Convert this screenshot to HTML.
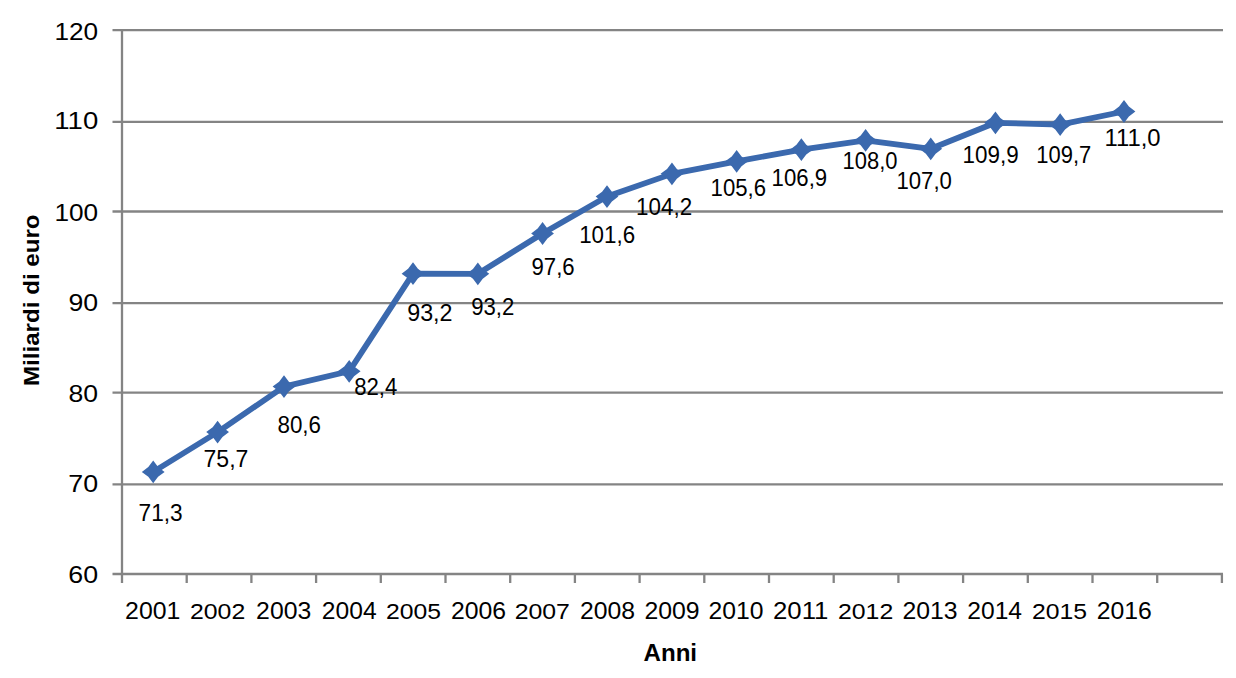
<!DOCTYPE html><html><head><meta charset="utf-8"><title>Miliardi di euro</title><style>html,body{margin:0;padding:0;background:#fff;width:1236px;height:678px;overflow:hidden}svg{display:block}text{font-family:"Liberation Sans",Arial,sans-serif;fill:#000}</style></head><body>
<svg width="1236" height="678" viewBox="0 0 1236 678">
<rect x="0" y="0" width="1236" height="678" fill="#fff"/>
<g stroke="#848484" stroke-width="2.3" fill="none">
<line x1="112.5" y1="574.0" x2="1223" y2="574.0"/>
<line x1="112.5" y1="484.3" x2="1223" y2="484.3"/>
<line x1="112.5" y1="392.7" x2="1223" y2="392.7"/>
<line x1="112.5" y1="303.1" x2="1223" y2="303.1"/>
<line x1="112.5" y1="211.5" x2="1223" y2="211.5"/>
<line x1="112.5" y1="121.9" x2="1223" y2="121.9"/>
<line x1="112.5" y1="30.2" x2="1223" y2="30.2"/>
<line x1="122" y1="29" x2="122" y2="583"/>
<line x1="186.70" y1="574" x2="186.70" y2="583"/>
<line x1="251.40" y1="574" x2="251.40" y2="583"/>
<line x1="316.10" y1="574" x2="316.10" y2="583"/>
<line x1="380.80" y1="574" x2="380.80" y2="583"/>
<line x1="445.50" y1="574" x2="445.50" y2="583"/>
<line x1="510.20" y1="574" x2="510.20" y2="583"/>
<line x1="574.90" y1="574" x2="574.90" y2="583"/>
<line x1="639.60" y1="574" x2="639.60" y2="583"/>
<line x1="704.30" y1="574" x2="704.30" y2="583"/>
<line x1="769.00" y1="574" x2="769.00" y2="583"/>
<line x1="833.70" y1="574" x2="833.70" y2="583"/>
<line x1="898.40" y1="574" x2="898.40" y2="583"/>
<line x1="963.10" y1="574" x2="963.10" y2="583"/>
<line x1="1027.80" y1="574" x2="1027.80" y2="583"/>
<line x1="1092.50" y1="574" x2="1092.50" y2="583"/>
<line x1="1157.20" y1="574" x2="1157.20" y2="583"/>
<line x1="1221.90" y1="574" x2="1221.90" y2="583"/>
</g>
<text transform="translate(54.41 39.50) scale(1.1394 1)" font-size="23.0">120</text>
<text transform="translate(54.31 129.15) scale(1.1965 1)" font-size="23.0">110</text>
<text transform="translate(54.41 221.20) scale(1.1394 1)" font-size="23.0">100</text>
<text transform="translate(68.44 310.50) scale(1.1611 1)" font-size="23.0">90</text>
<text transform="translate(68.56 402.10) scale(1.1566 1)" font-size="23.0">80</text>
<text transform="translate(68.33 491.80) scale(1.1657 1)" font-size="23.0">70</text>
<text transform="translate(68.33 583.20) scale(1.1657 1)" font-size="23.0">60</text>
<text transform="translate(125.06 618.80) scale(1.0803 1)" font-size="23.0">2001</text>
<text transform="translate(189.96 618.80) scale(1.0808 1)" font-size="23.0">2002</text>
<text transform="translate(256.11 618.80) scale(1.0778 1)" font-size="23.0">2003</text>
<text transform="translate(321.87 618.80) scale(1.0702 1)" font-size="23.0">2004</text>
<text transform="translate(386.01 618.80) scale(1.0768 1)" font-size="23.0">2005</text>
<text transform="translate(451.01 618.80) scale(1.0778 1)" font-size="23.0">2006</text>
<text transform="translate(514.66 618.80) scale(1.0808 1)" font-size="23.0">2007</text>
<text transform="translate(580.01 618.80) scale(1.0773 1)" font-size="23.0">2008</text>
<text transform="translate(644.46 618.80) scale(1.0793 1)" font-size="23.0">2009</text>
<text transform="translate(708.61 618.80) scale(1.0752 1)" font-size="23.0">2010</text>
<text transform="translate(773.01 618.80) scale(1.1193 1)" font-size="23.0">2011</text>
<text transform="translate(837.96 618.80) scale(1.0808 1)" font-size="23.0">2012</text>
<text transform="translate(902.51 618.80) scale(1.0778 1)" font-size="23.0">2013</text>
<text transform="translate(967.32 618.80) scale(1.0702 1)" font-size="23.0">2014</text>
<text transform="translate(1032.01 618.80) scale(1.0768 1)" font-size="23.0">2015</text>
<text transform="translate(1096.66 618.80) scale(1.0778 1)" font-size="23.0">2016</text>
<polyline fill="none" stroke="#3b69ae" stroke-width="5.8" stroke-linejoin="round" points="153.20,471.90 217.60,432.10 284.00,386.60 349.20,371.30 413.00,273.70 477.85,273.79 542.55,233.48 607.00,196.60 671.95,173.87 736.65,161.32 801.35,149.68 865.60,140.40 930.75,148.78 995.45,122.80 1060.15,124.59 1124.00,111.50"/>
<path fill="#3b69ae" d="M153.20 460.50L158.10 467.00L164.60 471.90L158.10 476.80L153.20 483.30L148.30 476.80L141.80 471.90L148.30 467.00Z"/>
<path fill="#3b69ae" d="M217.60 420.70L222.50 427.20L229.00 432.10L222.50 437.00L217.60 443.50L212.70 437.00L206.20 432.10L212.70 427.20Z"/>
<path fill="#3b69ae" d="M284.00 375.20L288.90 381.70L295.40 386.60L288.90 391.50L284.00 398.00L279.10 391.50L272.60 386.60L279.10 381.70Z"/>
<path fill="#3b69ae" d="M349.20 359.90L354.10 366.40L360.60 371.30L354.10 376.20L349.20 382.70L344.30 376.20L337.80 371.30L344.30 366.40Z"/>
<path fill="#3b69ae" d="M413.00 262.30L417.90 268.80L424.40 273.70L417.90 278.60L413.00 285.10L408.10 278.60L401.60 273.70L408.10 268.80Z"/>
<path fill="#3b69ae" d="M477.85 262.39L482.75 268.89L489.25 273.79L482.75 278.69L477.85 285.19L472.95 278.69L466.45 273.79L472.95 268.89Z"/>
<path fill="#3b69ae" d="M542.55 222.08L547.45 228.58L553.95 233.48L547.45 238.39L542.55 244.88L537.65 238.39L531.15 233.48L537.65 228.58Z"/>
<path fill="#3b69ae" d="M607.00 185.20L611.90 191.70L618.40 196.60L611.90 201.50L607.00 208.00L602.10 201.50L595.60 196.60L602.10 191.70Z"/>
<path fill="#3b69ae" d="M671.95 162.47L676.85 168.97L683.35 173.87L676.85 178.77L671.95 185.27L667.05 178.77L660.55 173.87L667.05 168.97Z"/>
<path fill="#3b69ae" d="M736.65 149.92L741.55 156.42L748.05 161.32L741.55 166.23L736.65 172.72L731.75 166.23L725.25 161.32L731.75 156.42Z"/>
<path fill="#3b69ae" d="M801.35 138.28L806.25 144.77L812.75 149.68L806.25 154.58L801.35 161.08L796.45 154.58L789.95 149.68L796.45 144.77Z"/>
<path fill="#3b69ae" d="M865.60 129.00L870.50 135.50L877.00 140.40L870.50 145.30L865.60 151.80L860.70 145.30L854.20 140.40L860.70 135.50Z"/>
<path fill="#3b69ae" d="M930.75 137.38L935.65 143.88L942.15 148.78L935.65 153.68L930.75 160.18L925.85 153.68L919.35 148.78L925.85 143.88Z"/>
<path fill="#3b69ae" d="M995.45 111.40L1000.35 117.89L1006.85 122.80L1000.35 127.70L995.45 134.20L990.55 127.70L984.05 122.80L990.55 117.89Z"/>
<path fill="#3b69ae" d="M1060.15 113.19L1065.05 119.69L1071.55 124.59L1065.05 129.49L1060.15 135.99L1055.25 129.49L1048.75 124.59L1055.25 119.69Z"/>
<path fill="#3b69ae" d="M1124.00 100.10L1128.90 106.60L1135.40 111.50L1128.90 116.40L1124.00 122.90L1119.10 116.40L1112.60 111.50L1119.10 106.60Z"/>
<text transform="translate(138.54 520.90) scale(0.9865 1)" font-size="23.0">71,3</text>
<text transform="translate(203.53 466.90) scale(1.0015 1)" font-size="23.0">75,7</text>
<text transform="translate(277.44 433.00) scale(0.9729 1)" font-size="23.0">80,6</text>
<text transform="translate(354.15 395.30) scale(0.9652 1)" font-size="23.0">82,4</text>
<text transform="translate(407.20 320.90) scale(1.0135 1)" font-size="23.0">93,2</text>
<text transform="translate(471.16 314.70) scale(0.9641 1)" font-size="23.0">93,2</text>
<text transform="translate(531.46 274.90) scale(0.9657 1)" font-size="23.0">97,6</text>
<text transform="translate(579.20 242.70) scale(0.9711 1)" font-size="23.0">101,6</text>
<text transform="translate(636.10 214.70) scale(0.9735 1)" font-size="23.0">104,2</text>
<text transform="translate(710.62 195.80) scale(0.9637 1)" font-size="23.0">105,6</text>
<text transform="translate(771.61 185.60) scale(0.9650 1)" font-size="23.0">106,9</text>
<text transform="translate(842.53 168.70) scale(0.9544 1)" font-size="23.0">108,0</text>
<text transform="translate(896.42 189.10) scale(0.9636 1)" font-size="23.0">107,0</text>
<text transform="translate(962.59 162.90) scale(0.9759 1)" font-size="23.0">109,9</text>
<text transform="translate(1036.23 162.90) scale(0.9552 1)" font-size="23.0">109,7</text>
<text transform="translate(1104.49 146.20) scale(1.0370 1)" font-size="23.0">111,0</text>
<text transform="translate(643.50 660.70) scale(1.0054 1)" font-size="24.0" font-weight="bold">Anni</text>
<text transform="translate(38.90 386.02) rotate(-90) scale(1.0680 1)" font-size="22.6" font-weight="bold">Miliardi di euro</text>
</svg></body></html>
